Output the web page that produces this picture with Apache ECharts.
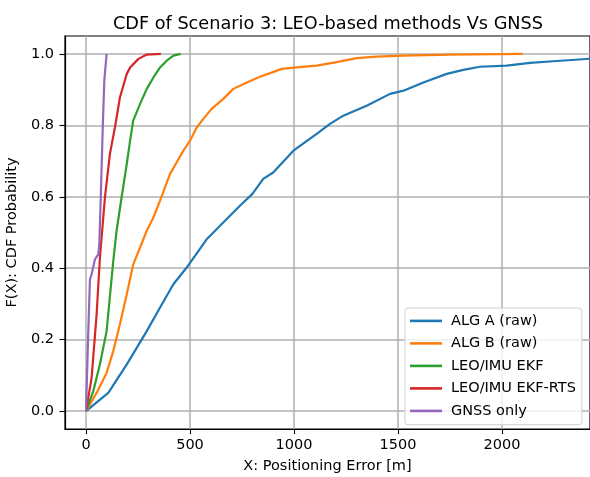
<!DOCTYPE html>
<html>
<head>
<meta charset="utf-8">
<script src="https://cdn.jsdelivr.net/npm/echarts@6/dist/echarts.min.js"></script>
<style>html,body{margin:0;padding:0;background:#fff}#c{width:590px;height:477px}</style>
</head>
<body>
<div id="c"></div>
<script>
const seriesNames = ['ALG A (raw)', 'ALG B (raw)', 'LEO/IMU EKF', 'LEO/IMU EKF-RTS', 'GNSS only'];
const colors = ['#1f77b4', '#ff7f0e', '#2ca02c', '#d62728', '#9467bd'];

const algA = [[0,0],[107,0.051],[196,0.131],[292,0.224],[356,0.29],[420,0.355],[484,0.402],[580,0.481],[660,0.528],[740,0.575],[800,0.608],[852,0.65],[900,0.668],[997,0.729],[1109,0.776],[1173,0.804],[1237,0.827],[1349,0.855],[1462,0.888],[1526,0.897],[1622,0.92],[1734,0.944],[1814,0.955],[1894,0.964],[2022,0.967],[2135,0.975],[2263,0.98],[2440,0.987]];
const algB = [[0,0],[51,0.051],[99,0.107],[131,0.168],[163,0.243],[196,0.327],[227,0.411],[260,0.458],[292,0.505],[324,0.542],[356,0.589],[404,0.664],[468,0.729],[500,0.757],[532,0.794],[564,0.818],[604,0.846],[660,0.874],[708,0.902],[773,0.92],[837,0.936],[885,0.946],[941,0.958],[1013,0.962],[1109,0.967],[1205,0.977],[1301,0.988],[1397,0.992],[1526,0.995],[1750,0.998],[2100,1.0]];
const ekf = [[0,0],[35,0.056],[67,0.131],[99,0.224],[131,0.42],[147,0.505],[171,0.598],[196,0.692],[212,0.757],[227,0.813],[260,0.86],[292,0.902],[324,0.934],[356,0.962],[388,0.981],[420,0.995],[455,1.0]];
const ekfRts = [[0,0],[27,0.093],[51,0.271],[67,0.43],[91,0.598],[115,0.72],[139,0.794],[163,0.878],[196,0.944],[212,0.962],[252,0.986],[292,0.998],[360,1.0]];
const gnss = [[0,0],[11,0.224],[19,0.369],[27,0.383],[43,0.425],[59,0.439],[64,0.467],[71,0.598],[80,0.785],[88,0.925],[99,1.0]];
const xTicks = [0, 500, 1000, 1500, 2000];
const yTicks = [0, 0.2, 0.4, 0.6, 0.8, 1.0];

const allData = [algA, algB, ekf, ekfRts, gnss];
const font = 'DejaVu Sans';
const fs = 14.5;
const chart = echarts.init(document.getElementById('c'), null, {renderer: 'canvas'});
chart.setOption({
  backgroundColor: '#fff',
  animation: false,
  title: {
    text: 'CDF of Scenario 3: LEO-based methods Vs GNSS',
    left: 323, top: 10, textAlign: 'center',
    textStyle: {fontFamily: font, fontSize: 17.7, fontWeight: 'normal', color: '#000'}
  },
  grid: {left: 65, right: 0, top: 36, bottom: 48, show: true, borderColor: '#000', borderWidth: 1.2, backgroundColor: 'transparent', outerBoundsMode: 'none', containLabel: false},
  legend: {
    orient: 'vertical', left: 405, top: 308,
    icon: 'rect',
    itemWidth: 32, itemHeight: 2.6, itemGap: 7.5,
    padding: [5.4, 6, 6.3, 5],
    backgroundColor: 'rgba(255,255,255,0.8)', borderColor: '#d0d0d0', borderWidth: 1, borderRadius: 3,
    textStyle: {fontFamily: font, fontSize: fs, lineHeight: 14, color: '#000', padding: [0, 0, 0, 4]},
    data: seriesNames
  },
  xAxis: {
    type: 'value', min: -101, max: 2423, interval: 500,
    name: 'X: Positioning Error [m]', nameLocation: 'middle', nameGap: 30,
    nameTextStyle: {fontFamily: font, fontSize: fs, color: '#000'},
    axisLine: {onZero: false, lineStyle: {color: '#000', width: 1.2}},
    axisTick: {show: true, length: 5, lineStyle: {color: '#000', width: 1.1}, customValues: xTicks},
    axisLabel: {fontFamily: font, fontSize: fs, color: '#000', margin: 8.5, customValues: xTicks, formatter: v => String(v)},
    splitLine: {show: true, lineStyle: {color: '#b0b0b0', width: 1.5}}
  },
  yAxis: {
    type: 'value', min: -0.05, max: 1.05, interval: 0.2,
    name: 'F(X): CDF Probability', nameLocation: 'middle', nameGap: 42,
    nameTextStyle: {fontFamily: font, fontSize: fs, color: '#000'},
    axisLine: {show: true, onZero: false, lineStyle: {color: '#000', width: 1.2}},
    axisTick: {show: true, length: 5.5, lineStyle: {color: '#000', width: 1.1}, customValues: yTicks},
    axisLabel: {fontFamily: font, fontSize: fs, color: '#000', margin: 11, customValues: yTicks, formatter: v => v.toFixed(1)},
    splitLine: {show: true, lineStyle: {color: '#b0b0b0', width: 1.5}}
  },
  series: seriesNames.map((n, i) => ({
    name: n, type: 'line', data: allData[i], symbol: 'none', showSymbol: false,
    color: colors[i], lineStyle: {width: 2.2, color: colors[i]}, z: 2 + i
  }))
});
</script>
</body>
</html>
